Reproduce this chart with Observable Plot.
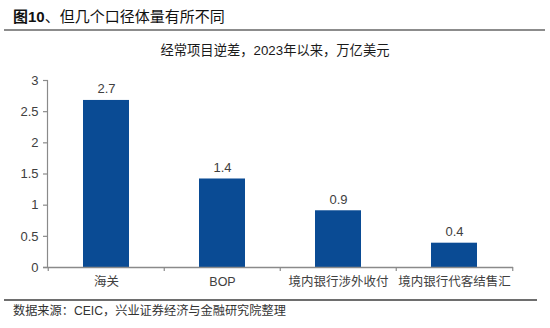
<!DOCTYPE html>
<html><head><meta charset="utf-8">
<script src="https://cdn.jsdelivr.net/npm/d3@7"></script>
<script src="https://cdn.jsdelivr.net/npm/@observablehq/plot@0.6"></script>
<style>
body{margin:0;background:#fff;font-family:"Liberation Sans","Noto Sans CJK SC",sans-serif;}
#wrap{width:550px;height:328px;position:relative;overflow:hidden;}
#title{position:absolute;left:13px;top:8px;font-size:15px;color:#111;white-space:nowrap;line-height:18px;}
#title b{font-weight:bold;}
#topline{position:absolute;left:4px;width:541px;top:29px;height:2px;background:#8c8c8c;}
#subtitle{position:absolute;left:0;width:550px;top:42px;text-align:center;font-size:13.3px;color:#1a1a1a;line-height:18px;}
#chart{position:absolute;left:0;top:60px;}
#botline{position:absolute;left:4px;width:533px;top:299px;height:2px;background:#6e6e6e;}
#footer{position:absolute;left:13px;top:303px;font-size:12.2px;color:#333;line-height:17px;white-space:nowrap;}
</style></head>
<body><div id="wrap">
<div id="title"><b>图10</b>、但几个口径体量有所不同</div>
<div id="topline"></div>
<div id="subtitle">经常项目逆差，2023年以来，万亿美元</div>
<div id="chart"></div>
<div id="botline"></div>
<div id="footer">数据来源：CEIC，兴业证券经济与金融研究院整理</div>
</div>
<script>
const categories = ["海关", "BOP", "境内银行涉外收付", "境内银行代客结售汇"];
const values = [2.68, 1.42, 0.91, 0.39];
const valueLabels = ["2.7", "1.4", "0.9", "0.4"];
const yTicks = [0, 0.5, 1, 1.5, 2, 2.5, 3];
const yTickLabels = ["0", "0.5", "1", "1.5", "2", "2.5", "3"];

const data = categories.map((c, i) => ({cat: c, v: values[i], label: valueLabels[i]}));
const W = 550, ML = 47, MR = 37;
const step = (W - ML - MR) / categories.length;
const axisColor = "#8a8a8a";
const textColor = "#404040";

const chart = Plot.plot({
  width: W, height: 237,
  marginTop: 20, marginBottom: 30, marginLeft: ML, marginRight: MR,
  style: {fontFamily: '"Liberation Sans","Noto Sans CJK SC",sans-serif', fontSize: "13px", color: textColor, background: "#fff"},
  x: {domain: categories, paddingInner: 0.6, paddingOuter: 0.3, axis: null},
  y: {domain: [0, 3], axis: null},
  marks: [
    Plot.barY(data, {x: "cat", y: "v", fill: "#0a4b94"}),
    Plot.text(data, {x: "cat", y: "v", text: "label", lineAnchor: "bottom", dy: -7, fill: textColor, fontSize: 13}),
    // y axis
    Plot.frame({anchor: "left", stroke: axisColor, strokeWidth: 1.2}),
    Plot.axisY({ticks: yTicks, label: null, tickFormat: d => yTickLabels[yTicks.indexOf(d)], tickSize: 4, tickPadding: 5, stroke: axisColor, color: textColor, fill: textColor, fontSize: 13, strokeWidth: 1.2}),
    // x axis
    Plot.ruleY([0], {stroke: axisColor, strokeWidth: 1.5, insetLeft: -4}),
    Plot.ruleX(categories, {x: d => d, y1: 0, y2: 0, dx: -step / 2, insetBottom: -4, stroke: axisColor, strokeWidth: 1.2}),
    Plot.ruleX([categories[categories.length - 1]], {x: d => d, y1: 0, y2: 0, dx: step / 2, insetBottom: -4, stroke: axisColor, strokeWidth: 1.2}),
    Plot.text(categories, {x: d => d, y: 0, text: d => d, lineAnchor: "top", dy: 10, fill: textColor, fontSize: 12.5})
  ]
});
document.getElementById("chart").appendChild(chart);
</script>
</body></html>
